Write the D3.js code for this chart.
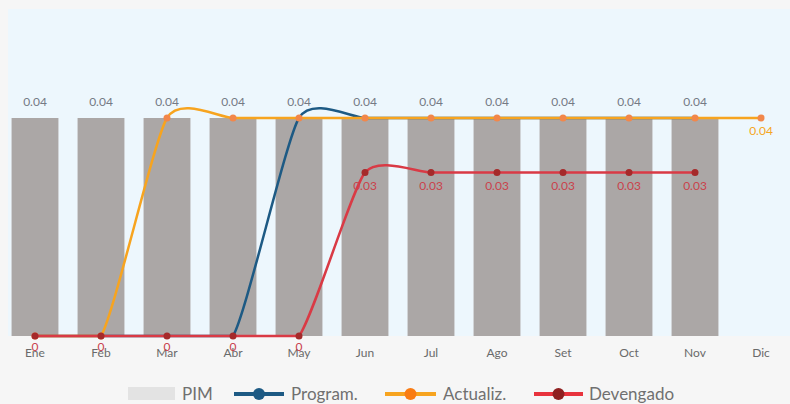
<!DOCTYPE html>
<html><head><meta charset="utf-8">
<script src="https://cdn.jsdelivr.net/npm/d3@7"></script>
<style>html,body{margin:0;padding:0;background:#f6f6f6;}svg{display:block;font-family:Lato,"Open Sans",sans-serif;}</style>
</head><body>
<svg id="c" width="790" height="404"></svg>
<script>
const months = ["Ene","Feb","Mar","Abr","May","Jun","Jul","Ago","Set","Oct","Nov","Dic"];
const pim       = [0.04,0.04,0.04,0.04,0.04,0.04,0.04,0.04,0.04,0.04,0.04,null];
const programado= [0,0,0,0,0.04,0.04,0.04,0.04,0.04,0.04,0.04,null];
const actualiz  = [0,0,0.04,0.04,0.04,0.04,0.04,0.04,0.04,0.04,0.04,0.04];
const devengado = [0,0,0,0,0,0.03,0.03,0.03,0.03,0.03,0.03,null];
const legendNames = ["PIM","Program.","Actualiz.","Devengado"];

const svg = d3.select("#c");
const W = 790, H = 404;
const plot = {left: 2, right: 794, top: 9, bottom: 336};

svg.append("rect").attr("x",0).attr("y",0).attr("width",W).attr("height",H).attr("fill","#f6f6f6");
svg.append("rect").attr("x",8).attr("y",plot.top).attr("width",W-8).attr("height",plot.bottom-plot.top).attr("fill","#edf7fd");

const x = d3.scaleBand().domain(months).range([plot.left, plot.right]).paddingInner(0.29).paddingOuter(0.145);
const y = d3.scaleLinear().domain([0, 0.04]).range([plot.bottom, 118]);
const cx = m => x(m) + x.bandwidth()/2;

// spline curve (cardinal tangents) whose control points never drop below the axis baseline
function clampedSpline(floorY, k){
  return function(context){
    return {
      areaStart(){}, areaEnd(){},
      lineStart(){ this._p = []; },
      point(px,py){ this._p.push([+px,+py]); },
      lineEnd(){
        const p = this._p, n = p.length;
        if (!n) return;
        context.moveTo(p[0][0], p[0][1]);
        for (let i=0;i<n-1;i++){
          const a = p[i-1]||p[i], b=p[i], c=p[i+1], d=p[i+2]||p[i+1];
          let c1x = b[0]+(c[0]-a[0])*k, c1y = b[1]+(c[1]-a[1])*k;
          let c2x = c[0]-(d[0]-b[0])*k, c2y = c[1]-(d[1]-b[1])*k;
          c1y = Math.min(c1y, floorY); c2y = Math.min(c2y, floorY);
          context.bezierCurveTo(c1x,c1y,c2x,c2y,c[0],c[1]);
        }
      }
    };
  };
}

// bars
const barData = months.map((m,i)=>({m, v: pim[i]})).filter(d=>d.v!=null);
svg.append("g").selectAll("rect").data(barData).join("rect")
  .attr("x", d=>x(d.m)).attr("width", x.bandwidth())
  .attr("y", d=>y(d.v)).attr("height", d=>y(0)-y(d.v))
  .attr("fill","#aba7a6");
svg.append("g").selectAll("text").data(barData).join("text")
  .attr("x", d=>cx(d.m)).attr("y", d=>y(d.v)-12)
  .attr("text-anchor","middle").attr("font-size",12).attr("fill","#757a85")
  .text(d=>d.v.toFixed(2));

// x axis labels
const xAxis = d3.axisBottom(x).tickSize(0).tickPadding(12);
const ax = svg.append("g").attr("transform",`translate(0,${plot.bottom})`).call(xAxis);
ax.select(".domain").remove();
ax.selectAll("text").attr("font-size",12).attr("fill","#6a6a6a").attr("font-family","Lato,sans-serif");

const line = d3.line().defined(d=>d.v!=null).x(d=>cx(d.m)).y(d=>y(d.v)).curve(clampedSpline(y(0), 0.1));
function series(vals, color, mcolor, width, markers){
  const data = months.map((m,i)=>({m, v: vals[i]}));
  svg.append("path").datum(data).attr("d", line).attr("fill","none").attr("stroke",color).attr("stroke-width",width);
  if (markers) svg.append("g").selectAll("circle").data(data.filter(d=>d.v!=null)).join("circle")
    .attr("cx", d=>cx(d.m)).attr("cy", d=>y(d.v)).attr("r",3.5).attr("fill",mcolor);
  return data;
}
series(programado, "#1d5a84", "#1d5a84", 2.5, false);
const aData = series(actualiz, "#f7a41f", "#f2874a", 2.5, true);
const dData = series(devengado, "#d93a45", "#a52a2a", 2.5, true);

// labels
svg.append("text").attr("x", cx("Dic")).attr("y", y(0.04)+17).attr("text-anchor","middle")
  .attr("font-size",12).attr("fill","#f5a623").text("0.04");
svg.append("g").selectAll("text").data(dData.filter(d=>d.v!=null)).join("text")
  .attr("x", d=>cx(d.m)).attr("y", d=>y(d.v)+(d.v===0?15:17)).attr("text-anchor","middle")
  .attr("font-size",12).attr("fill","#c9434c").text(d=>d.v===0?"0":d.v.toFixed(2));

// legend
const lg = svg.append("g").attr("font-size",17).attr("fill","#707070");
lg.append("rect").attr("x",128).attr("y",387).attr("width",47).attr("height",13).attr("fill","#e3e3e3");
lg.append("text").attr("x",182).attr("y",400).text(legendNames[0]);
const items = [
  {x0:234,x1:284,c:"#1d5a84",m:"#1d5a84",t:legendNames[1],tx:291},
  {x0:385,x1:436,c:"#f7a41f",m:"#f97c13",t:legendNames[2],tx:443},
  {x0:534,x1:583,c:"#e8333d",m:"#8f2020",t:legendNames[3],tx:589}
];
items.forEach(it=>{
  lg.append("line").attr("x1",it.x0).attr("x2",it.x1).attr("y1",394).attr("y2",394).attr("stroke",it.c).attr("stroke-width",4);
  lg.append("circle").attr("cx",(it.x0+it.x1)/2).attr("cy",394).attr("r",6).attr("fill",it.m);
  lg.append("text").attr("x",it.tx).attr("y",400).text(it.t);
});
</script>
</body></html>
